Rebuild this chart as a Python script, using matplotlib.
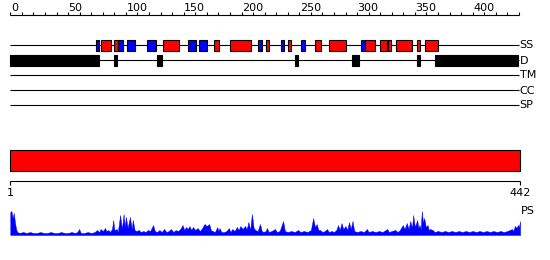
import matplotlib
matplotlib.use('Agg')
import matplotlib.pyplot as plt
import numpy as np

plt.rcParams['font.family'] = ['Liberation Sans Narrow', 'DejaVu Sans']
plt.rcParams['font.size'] = 8

# Data
seq_len = 442
ruler_ticks = list(range(0, 441, 10))
ruler_labels = list(range(0, 401, 50))
track_names = ['SS', 'D', 'TM', 'CC', 'SP']

# secondary structure: (start, end, kind)  H = helix (red), E = strand (blue)
ss_start = [74, 78.7, 90, 93.2, 101.2, 118.3, 132.4, 154, 163.2, 176.5, 190.3, 214.5, 221.4,
            234.2, 240.5, 251.7, 263.8, 276, 303.6, 306.6, 320.1, 327, 333.7, 352.1, 358.7]
ss_end = [77, 87.4, 93.2, 97.8, 108.3, 126.3, 145.7, 160.4, 169.9, 180.8, 208.5, 217.5, 224.2,
          236.5, 242.6, 255.2, 269, 290.7, 306.6, 315.7, 325.9, 329.1, 347.8, 354.4, 370.2]
ss_kind = ['E', 'H', 'H', 'E', 'E', 'E', 'H', 'E', 'E', 'H', 'H', 'E', 'H',
           'E', 'H', 'E', 'H', 'H', 'E', 'H', 'H', 'H', 'H', 'H', 'H']

# disorder segments
d_start = [0, 90, 127, 246, 295.6, 352, 367.4]
d_end = [77, 92, 131.5, 248.6, 301.4, 354.4, 439.5]

# PS profile (height)
ps_pos = [0, 1, 2, 3, 4, 5, 6, 8, 11, 14, 17, 20, 23, 26, 29, 32, 35, 38, 41, 44, 47, 50, 53, 56, 58,
          59.5, 61, 64, 67, 70, 73, 75, 77, 78, 80, 82, 83, 85, 86, 88, 89, 90, 92, 93, 95, 96.5, 98,
          99, 100, 101.5, 103.5, 105, 106, 107.5, 109, 111, 113, 115, 117, 119, 121, 123.5, 125, 127,
          129, 131, 133, 135, 137, 139, 141, 143, 145, 147, 149, 150.5, 152, 153.5, 155, 156.5, 158,
          160, 162, 164, 166, 168, 170, 172, 173.5, 175, 177, 179, 180, 181, 182.5, 185, 187, 189,
          190.5, 192, 194, 196, 197.5, 199, 201, 203, 204.5, 206, 207.5, 209, 210.5, 212, 214, 216,
          217.5, 219, 221, 222, 223.5, 226, 229, 230.5, 233, 236, 237.5, 240, 243, 246, 249, 251, 254,
          257, 260, 262, 263.5, 265, 266.5, 268, 270, 272, 274, 275.5, 278, 280, 282, 283.5, 285,
          286.5, 288, 290, 291.5, 293, 294.5, 296, 297.5, 300, 303, 306, 308.5, 310, 313, 316, 319,
          322, 326, 327.5, 330, 333, 335, 337, 339.5, 341, 343, 344.5, 346, 347.5, 348.5, 350, 352,
          353, 354, 355, 356, 357, 358, 359.5, 361, 362, 363, 365.5, 367, 370, 373, 376, 379, 382,
          385, 388, 391, 394, 397, 400, 403, 406, 409, 412, 415, 418, 421, 424, 427, 430, 432, 434,
          435, 436.5, 438, 439, 440, 441]
ps_val = [23, 24, 17, 22, 13, 6, 3, 2, 3, 2, 3, 2, 2, 3, 2, 2, 3, 2, 2, 3, 2, 2, 3, 2, 3,
          6, 2, 2, 3, 2, 3, 5, 3, 6, 4, 7, 4, 5, 3, 6, 15, 5, 6, 3, 20, 6, 21,
          8, 18, 7, 18, 6, 15, 5, 4, 5, 3, 4, 3, 5, 4, 10, 4, 3,
          5, 3, 6, 3, 4, 6, 3, 5, 4, 6, 10, 5, 8, 6, 9, 5, 8,
          5, 7, 4, 7, 11, 9, 11, 5, 4, 3, 8, 4, 7, 3, 3, 4, 7,
          3, 6, 4, 8, 5, 9, 6, 9, 6, 13, 5, 21, 7, 5, 4, 11,
          4, 3, 4, 7, 3, 4, 6, 3, 4, 14, 4, 3, 4, 3, 5, 3, 4,
          3, 5, 17, 8, 11, 5, 5, 3, 4, 6, 3, 4, 3, 5, 10, 5,
          12, 6, 9, 5, 13, 6, 14, 4, 3, 4, 3, 6, 3, 4, 3, 4,
          3, 6, 3, 4, 5, 3, 5, 10, 6, 12, 6, 14, 7, 20, 8, 15,
          7, 10, 6, 24, 12, 17, 8, 10, 5, 6, 5, 3, 4, 3, 4, 3, 4,
          3, 4, 3, 4, 3, 4, 3, 4, 3, 4, 3, 4, 3, 4, 3, 4, 5, 6,
          4, 9, 7, 10, 8, 14]

RED = '#ff0000'
BLUE = '#0000ff'
LW = 0.8
px = 1.156  # pixels per residue
W, H = 550, 260
x_left = 10.3

fig = plt.figure(figsize=(W / 100, H / 100), dpi=100)
ax = fig.add_axes([0, 0, 1, 1])
ax.set_xlim(-x_left / px, (W - x_left) / px)
ax.set_ylim(H, 0)
ax.axis('off')

# top ruler
ax.hlines(15, 0, ruler_ticks[-1], color='black', lw=LW)
ax.vlines(ruler_ticks, 12, 15, color='black', lw=LW)
for t in ruler_labels:
    ax.text(t + 0.4, 11, str(t), ha='left', va='baseline', fontsize=8)

# tracks
track_y = [45, 60, 75, 90, 105]
for name, y in zip(track_names, track_y):
    ax.hlines(y, 0, 440, color='black', lw=LW, zorder=1)
    ax.text(440.5, y + 0.5, name, ha='left', va='center', fontsize=8)

ss_len = np.array(ss_end) - np.array(ss_start)
ss_col = [RED if k == 'H' else BLUE for k in ss_kind]
ax.bar(ss_start, 10.5, width=ss_len, bottom=40, align='edge', color=ss_col,
       edgecolor='black', lw=LW, zorder=2)

d_len = np.array(d_end) - np.array(d_start)
ax.bar(d_start, 11, width=d_len, bottom=55, align='edge', color='black',
       edgecolor='black', lw=LW, zorder=2)

# full-length bar and bottom ruler
ax.bar(0, 20.5, width=seq_len - 1, bottom=150, align='edge', color=RED,
       edgecolor='black', lw=LW)
ax.hlines(181, 0, seq_len - 1, color='black', lw=LW)
ax.vlines([0, seq_len - 1], 181, 185, color='black', lw=LW)
ax.text(0, 188, '1', ha='center', va='top', fontsize=8)
ax.text(seq_len - 1, 188, str(seq_len), ha='center', va='top', fontsize=8)
ax.text(seq_len, 211, 'PS', ha='left', va='center', fontsize=8)

# PS profile
ax2 = fig.add_axes([x_left / W, (H - 235) / H, (seq_len * px) / W, 25 / H])
ax2.fill_between(ps_pos, ps_val, color=BLUE, lw=0.3, edgecolor=BLUE)
ax2.set_xlim(0, seq_len)
ax2.set_ylim(0, 25)
ax2.axis('off')

fig.savefig('out.png', dpi=100)
